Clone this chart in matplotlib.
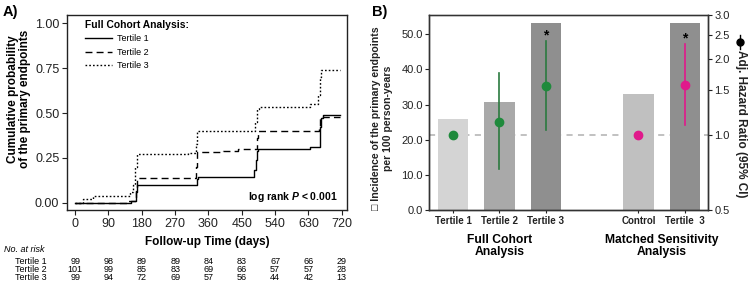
import numpy as np
import matplotlib
matplotlib.use("Agg")
import matplotlib.pyplot as plt
from matplotlib.lines import Line2D
from matplotlib.transforms import blended_transform_factory

plt.rcParams['font.family'] = ['Liberation Sans', 'DejaVu Sans']
plt.rcParams['mathtext.fontset'] = 'custom'
plt.rcParams['mathtext.rm'] = 'Liberation Sans:bold'
plt.rcParams['mathtext.it'] = 'Liberation Sans:italic:bold'

# ---- panel A: Kaplan-Meier style cumulative curves
t1_days = [0, 150, 165, 168, 328, 332, 484, 488, 491, 494, 634, 661, 663, 668, 715]
t1_prob = [0, 0.01, 0.06, 0.10, 0.13, 0.145, 0.18, 0.24, 0.29, 0.30, 0.31, 0.42, 0.47, 0.49, 0.49]
t2_days = [0, 140, 165, 168, 326, 330, 400, 440, 490, 494, 658, 662, 666, 715]
t2_prob = [0, 0.01, 0.08, 0.14, 0.20, 0.285, 0.29, 0.30, 0.36, 0.40, 0.43, 0.47, 0.48, 0.48]
t3_days = [0, 20, 48, 148, 155, 162, 166, 306, 325, 330, 486, 491, 496, 634, 655, 660, 664, 715]
t3_prob = [0, 0.02, 0.04, 0.06, 0.10, 0.20, 0.27, 0.28, 0.33, 0.40, 0.45, 0.52, 0.535, 0.55, 0.60, 0.70, 0.74, 0.74]

risk_days = [0, 90, 180, 270, 360, 450, 540, 630, 720]
risk_rows = ['Tertile 1', 'Tertile 2', 'Tertile 3']
risk_t1 = [99, 98, 89, 89, 84, 83, 67, 66, 29]
risk_t2 = [101, 99, 85, 83, 69, 66, 57, 57, 28]
risk_t3 = [99, 94, 72, 69, 57, 56, 44, 42, 13]

# ---- panel B: incidence bars + adjusted hazard ratios
bar_labels = ['Tertile 1', 'Tertile 2', 'Tertile 3', 'Control', 'Tertile  3']
bar_pos = [0, 1, 2, 4, 5]
incidence = [25.9, 30.6, 53.3, 33.0, 53.3]
hr = [1.0, 1.12, 1.56, 1.0, 1.58]
hr_lo = [np.nan, 0.73, 1.04, np.nan, 1.09]
hr_hi = [np.nan, 1.76, 2.37, np.nan, 2.30]
signif = [False, False, True, False, True]
bar_colors = ['#d4d4d4', '#a9a9a9', '#8f8f8f', '#c0c0c0', '#8f8f8f']
pt_colors = ['#1f8a3c', '#1f8a3c', '#1f8a3c', '#e0198b', '#e0198b']
err_colors = ['#2b7a3f', '#2b7a3f', '#2b7a3f', '#e0198b', '#e0198b']

W, H = 750, 287
fig = plt.figure(figsize=(7.5, 2.87), dpi=100)


def fx(px):
    return px / W


def fy(py):
    return 1 - py / H


# ================= Panel A
axA = fig.add_axes([fx(67), fy(210), fx(347) - fx(67), fy(15) - fy(210)])
axA.step(t1_days, t1_prob, where='post', color='black', lw=1.0, label='Tertile 1')
axA.step(t2_days, t2_prob, where='post', color='black', lw=1.0, ls=(0, (5, 3)), label='Tertile 2')
axA.step(t3_days, t3_prob, where='post', color='black', lw=1.0, ls=(0, (1.2, 1.5)), label='Tertile 3')
axA.set_xlim(-22, 734)
axA.set_ylim(-0.04, 1.046)
axA.set_xticks(risk_days)
axA.set_yticks([0, 0.25, 0.5, 0.75, 1.0])
axA.set_yticklabels(['0.00', '0.25', '0.50', '0.75', '1.00'])
axA.tick_params(labelsize=9, length=3.5, width=0.8, colors='#222222', pad=2)
for s in axA.spines.values():
    s.set_linewidth(1.0)
    s.set_color('#222222')

leg = axA.legend(title='Full Cohort Analysis:', loc='upper left', bbox_to_anchor=(0.064, 0.975),
                 frameon=False, fontsize=6.5, handlelength=3.0, handletextpad=0.6,
                 labelspacing=0.5, borderpad=0, borderaxespad=0)
leg.get_title().set_fontweight('bold')
leg.get_title().set_fontsize(7.4)
leg._legend_box.align = 'left'

axA.text(0.968, 0.067, r'log rank $P$ < 0.001', transform=axA.transAxes, ha='right', va='center',
         fontsize=7.5, fontweight='bold')

fig.text(fx(207), fy(242), 'Follow-up Time (days)', ha='center', va='center', fontsize=8.5,
         fontweight='bold')
fig.text(fx(19), fy(99), 'Cumulative probability\nof the primary endpoints', rotation=90,
         ha='center', va='center', fontsize=8.5, fontweight='bold', linespacing=1.1)
fig.text(fx(3), fy(12), 'A)', ha='left', va='center', fontsize=10.5, fontweight='bold')

# number at risk table
tr = blended_transform_factory(axA.transData, fig.transFigure)
fig.text(fx(4), fy(250), 'No. at risk', ha='left', va='center', fontsize=6.5, style='italic')
for row, vals, py in zip(risk_rows, [risk_t1, risk_t2, risk_t3], [262, 270, 278]):
    fig.text(fx(15), fy(py), row, ha='left', va='center', fontsize=6.5)
    for d, v in zip(risk_days, vals):
        axA.text(d, fy(py), str(v), transform=tr, ha='center', va='center', fontsize=6.5,
                 clip_on=False)

# ================= Panel B
axB = fig.add_axes([fx(429), fy(210), fx(708) - fx(429), fy(15) - fy(210)])
axB2 = axB.twinx()
axB.bar(bar_pos, incidence, width=0.65, color=bar_colors, zorder=2)
axB.set_xlim(-0.52, 5.5)
axB.set_ylim(0, 55.5)
axB.set_yticks([0, 10, 20, 30, 40, 50])
axB.set_yticklabels(['%.1f' % v for v in [0, 10, 20, 30, 40, 50]])
axB.set_xticks(bar_pos)
axB.set_xticklabels(bar_labels, fontweight='bold', fontsize=7)
axB.tick_params(axis='y', labelsize=8, length=3, width=0.8, pad=1.5, colors='#222222')
axB.tick_params(axis='x', length=2.5, width=0.8, pad=2, colors='#222222')

axB2.set_yscale('log')
axB2.set_ylim(0.5, 3.0)
axB2.set_yticks([0.5, 1.0, 1.5, 2.0, 2.5, 3.0])
axB2.set_yticklabels(['0.5', '1.0', '1.5', '2.0', '2.5', '3.0'])
axB2.yaxis.set_minor_locator(matplotlib.ticker.NullLocator())
axB2.tick_params(axis='y', labelsize=8, length=3, width=0.8, pad=1.5, colors='#222222')

# reference line at HR = 1 behind the bars
axB.add_line(Line2D([0, 1], [1.0, 1.0], transform=blended_transform_factory(axB.transAxes, axB2.transData),
                    color='#b0b0b0', lw=1.1, ls=(0, (4, 3.5)), zorder=1))

for x, h, lo, hi, pc, ec, sg in zip(bar_pos, hr, hr_lo, hr_hi, pt_colors, err_colors, signif):
    if not np.isnan(lo):
        axB2.plot([x, x], [lo, hi], color=ec, lw=1.2, zorder=3)
    axB2.plot([x], [h], 'o', color=pc, ms=6, zorder=4)
    if sg:
        axB2.annotate('*', (x, hi), xytext=(0, -1), textcoords='offset points', ha='center',
                      va='bottom', fontsize=10, fontweight='bold')

for ax in (axB, axB2):
    for s in ax.spines.values():
        s.set_linewidth(1.0)
        s.set_color('#333333')
axB.spines['top'].set_color('#777777')

fig.text(fx(500), fy(246), 'Full Cohort\nAnalysis', ha='center', va='center', fontsize=8.7,
         fontweight='bold', linespacing=1.1)
fig.text(fx(662), fy(246), 'Matched Sensitivity\nAnalysis', ha='center', va='center', fontsize=8.7,
         fontweight='bold', linespacing=1.1)

fig.text(fx(382), fy(118), '\u25a1 Incidence of the primary endpoints\nper 100 person-years',
         rotation=90, ha='center', va='center', fontsize=7.6, fontweight='bold', linespacing=1.25,
         color='#222222')
fig.text(fx(741), fy(124), 'Adj. Hazard Ratio (95% CI)', rotation=270, ha='center', va='center',
         fontsize=8.5, fontweight='bold', color='#222222')
fig.add_artist(Line2D([fx(740), fx(740)], [fy(35), fy(49)], color='black', lw=1.0))
fig.add_artist(Line2D([fx(740)], [fy(42)], marker='o', color='black', ms=5))
fig.text(fx(372), fy(12), 'B)', ha='left', va='center', fontsize=10.5, fontweight='bold')

fig.savefig('out.png', dpi=100)
